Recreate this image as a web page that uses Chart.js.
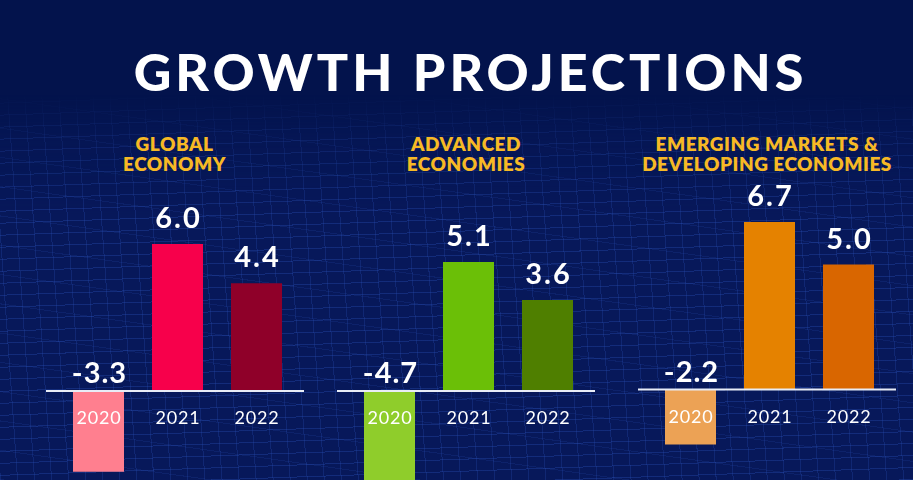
<!DOCTYPE html>
<html>
<head>
<meta charset="utf-8">
<script src="https://cdn.jsdelivr.net/npm/chart.js@4.4.1/dist/chart.umd.min.js"></script>
<style>
  html, body { margin: 0; padding: 0; }
  body { width: 913px; height: 480px; overflow: hidden; background: #03134c; position: relative; font-family: Lato, "Open Sans", sans-serif; }
  #mesh {
    position: absolute; left: 0; top: 95px; width: 913px; height: 385px;
    background-color: #07185a;
    background-image:
      repeating-linear-gradient(-2deg, rgba(40,78,180,0.36) 0px, rgba(40,78,180,0.36) 1px, transparent 1px, transparent 12px),
      repeating-linear-gradient(86deg, rgba(40,78,180,0.28) 0px, rgba(40,78,180,0.28) 1px, transparent 1px, transparent 17px),
      repeating-linear-gradient(8deg, rgba(40,78,180,0.18) 0px, rgba(40,78,180,0.18) 1px, transparent 1px, transparent 29px);
    -webkit-mask-image: linear-gradient(to bottom, transparent 0px, rgba(0,0,0,0.6) 45px, black 120px);
    mask-image: linear-gradient(to bottom, transparent 0px, rgba(0,0,0,0.6) 45px, black 120px);
  }
  #title {
    position: absolute; left: 0; width: 941px; top: 45px; text-align: center;
    color: #ffffff; font: 900 52px/52px Lato, sans-serif; letter-spacing: 4px; white-space: nowrap;
  }
  .sub {
    position: absolute; top: 134px; width: 300px; text-align: center;
    color: #f7b925; font: 800 19px/20px Lato, sans-serif; letter-spacing: 0.5px; white-space: nowrap;
  }
  canvas.panel { position: absolute; top: 0; }
</style>
</head>
<body>
<div id="mesh"></div>
<div id="title">GROWTH PROJECTIONS</div>
<div class="sub" id="sub0"></div>
<div class="sub" id="sub1"></div>
<div class="sub" id="sub2"></div>
<canvas class="panel" id="c0" width="258" height="480" style="left:46px;width:258px;height:480px"></canvas>
<canvas class="panel" id="c1" width="258" height="480" style="left:337px;width:258px;height:480px"></canvas>
<canvas class="panel" id="c2" width="258" height="480" style="left:638px;width:258px;height:480px"></canvas>
<script>
// ---- data ----
const years = ['2020', '2021', '2022'];
const globalEconomy = [-3.3, 6.0, 4.4];
const advancedEconomies = [-4.7, 5.1, 3.6];
const emergingEconomies = [-2.2, 6.7, 5.0];
const panelTitles = [
  ['GLOBAL', 'ECONOMY'],
  ['ADVANCED', 'ECONOMIES'],
  ['EMERGING MARKETS &', 'DEVELOPING ECONOMIES']
];

// ---- styling ----
const panelColors = [
  ['#ff7f8f', '#f7004b', '#8f0029'],
  ['#8fcd2b', '#6bbf07', '#4f7f00'],
  ['#eca255', '#e58200', '#d96600']
];
const panelSeries = [globalEconomy, advancedEconomies, emergingEconomies];
const baselines = [391, 391, 389.5];
const pxPerUnit = [24.5, 25.3, 25];
const canvasH = 480;

const subCenters = [174.5, 466, 767];
panelTitles.forEach((t, i) => {
  const el = document.getElementById('sub' + i);
  el.innerHTML = t.join('<br>');
  el.style.left = (subCenters[i] - 150) + 'px';
});

const labelPlugin = {
  id: 'panelLabels',
  afterDatasetsDraw(chart) {
    const ctx = chart.ctx;
    const yScale = chart.scales.y;
    const zeroY = yScale.getPixelForValue(0);
    ctx.save();
    ctx.strokeStyle = '#e8ecf6';
    ctx.lineWidth = 2;
    ctx.beginPath();
    ctx.moveTo(0, zeroY);
    ctx.lineTo(chart.width, zeroY);
    ctx.stroke();
    const meta = chart.getDatasetMeta(0);
    const data = chart.data.datasets[0].data;
    meta.data.forEach((bar, i) => {
      const v = data[i];
      ctx.fillStyle = '#ffffff';
      ctx.textAlign = 'center';
      ctx.textBaseline = 'alphabetic';
      ctx.font = '700 29px Lato, sans-serif';
      ctx.letterSpacing = v >= 0 ? '2px' : '1px';
      const txt = v.toFixed(1);
      const ty = v >= 0 ? bar.y - 16 : zeroY - 8;
      ctx.fillText(txt, bar.x + 1, ty);
      ctx.font = '400 18px Lato, sans-serif';
      ctx.letterSpacing = '0.8px';
      ctx.textBaseline = 'middle';
      ctx.fillText(chart.data.labels[i], bar.x + 0.4, zeroY + 27.5);
    });
    ctx.restore();
  }
};

panelSeries.forEach((series, i) => {
  const b = baselines[i];
  const k = pxPerUnit[i];
  new Chart(document.getElementById('c' + i), {
    type: 'bar',
    data: {
      labels: years,
      datasets: [{
        data: series,
        backgroundColor: panelColors[i],
        borderWidth: 0,
        barPercentage: 51 / 79,
        categoryPercentage: 1
      }]
    },
    options: {
      responsive: false,
      animation: false,
      layout: { padding: { left: 13, right: 8, top: 0, bottom: 0 } },
      plugins: { legend: { display: false }, tooltip: { enabled: false } },
      scales: {
        x: { display: false, offset: true },
        y: { display: false, min: -(canvasH - b) / k, max: b / k }
      }
    },
    plugins: [labelPlugin]
  });
});
</script>
</body>
</html>
